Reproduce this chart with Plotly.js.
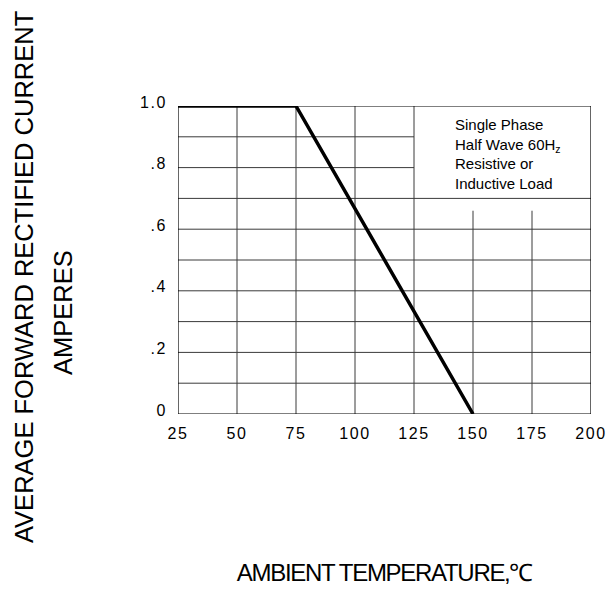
<!DOCTYPE html>
<html>
<head>
<meta charset="utf-8">
<script src="https://cdn.plot.ly/plotly-3.0.1.min.js"></script>
<style>
html,body{margin:0;padding:0;background:#fff;}
#chart{width:615px;height:589px;}
.xtick text,.ytick text{letter-spacing:1.6px;}
.xtitle{letter-spacing:-1.3px;}
</style>
</head>
<body>
<div id="chart"></div>
<script>
// Data
const temperature = [25, 75, 150];
const current = [1.0, 1.0, 0];

// Axis ticks
const xTickVals = [25, 50, 75, 100, 125, 150, 175, 200];
const xTickText = ['25', '50', '75', '100', '125', '150', '175', '200'];
const yTickVals = [0, 0.2, 0.4, 0.6, 0.8, 1.0];
const yTickText = ['0', '.2', '.4', '.6', '.8', '1.0'];

// Grid layout of the chart (full and partial lines around the note box)
const gridXFull = [50, 75, 100, 125];
const gridXPartial = [150, 175];
const gridXPartialTop = 0.66;
const gridYFull = [0.1, 0.2, 0.3, 0.4, 0.5, 0.6, 0.7];
const gridYPartial = [0.8, 0.9];
const gridYPartialEnd = 125;

const noteLines = ['Single Phase', 'Half Wave 60H<sub>z</sub>', 'Resistive or', 'Inductive Load'];

const FONT = 'Liberation Sans, Arial, Helvetica, sans-serif';
const gridColor = '#3a3a3a';

const shapes = [];
gridXFull.forEach(v => shapes.push({type:'line', xref:'x', yref:'y', x0:v, x1:v, y0:0, y1:1, line:{color:gridColor, width:1}, layer:'below'}));
gridXPartial.forEach(v => shapes.push({type:'line', xref:'x', yref:'y', x0:v, x1:v, y0:0, y1:gridXPartialTop, line:{color:gridColor, width:1}, layer:'below'}));
gridYFull.forEach(v => shapes.push({type:'line', xref:'x', yref:'y', x0:25, x1:200, y0:v, y1:v, line:{color:gridColor, width:1}, layer:'below'}));
gridYPartial.forEach(v => shapes.push({type:'line', xref:'x', yref:'y', x0:25, x1:gridYPartialEnd, y0:v, y1:v, line:{color:gridColor, width:1}, layer:'below'}));
shapes.push({type:'rect', xref:'x', yref:'y', x0:25, x1:200, y0:0, y1:1, line:{color:'#000', width:1.2}, layer:'below'});

const trace = {
  x: temperature, y: current, type:'scatter', mode:'lines',
  line:{color:'#000', width:3.5}, hoverinfo:'skip', cliponaxis:false
};

const layout = {
  width:615, height:589,
  margin:{l:178, r:24, t:106, b:175},
  paper_bgcolor:'#fff', plot_bgcolor:'#fff',
  showlegend:false,
  font:{family:FONT, color:'#000'},
  xaxis:{
    range:[25,200], tickvals:xTickVals, ticktext:xTickText,
    showgrid:false, zeroline:false, showline:false, ticks:'',
    ticklabelstandoff:8,
    tickfont:{family:FONT, size:16, color:'#000'},
    title:{text:'AMBIENT TEMPERATURE,℃', font:{family:FONT, size:24, color:'#000'}, standoff:123},
    automargin:false, fixedrange:true
  },
  yaxis:{
    range:[0,1], tickvals:yTickVals, ticktext:yTickText,
    showgrid:false, zeroline:false, showline:false, ticks:'',
    ticklabelstandoff:10, ticklabelshift:-4,
    tickfont:{family:FONT, size:16, color:'#000'},
    automargin:false, fixedrange:true
  },
  shapes: shapes,
  annotations:[
    {xref:'x', yref:'y', x:141.5, y:0.845, xanchor:'left', yanchor:'middle', align:'left',
     text:noteLines.join('<br>'), showarrow:false,
     font:{family:FONT, size:15, color:'#000'}},
    {xref:'paper', yref:'paper', x:(24-178)/413, y:(414-277)/308, xanchor:'center', yanchor:'middle',
     text:'AVERAGE FORWARD RECTIFIED CURRENT', textangle:-90, showarrow:false,
     font:{family:FONT, size:25.5, color:'#000'}},
    {xref:'paper', yref:'paper', x:(63-178)/413, y:(414-312)/308, xanchor:'center', yanchor:'middle',
     text:'AMPERES', textangle:-90, showarrow:false,
     font:{family:FONT, size:25.5, color:'#000'}}
  ]
};

Plotly.newPlot('chart', [trace], layout, {displayModeBar:false, staticPlot:true});
</script>
</body>
</html>
